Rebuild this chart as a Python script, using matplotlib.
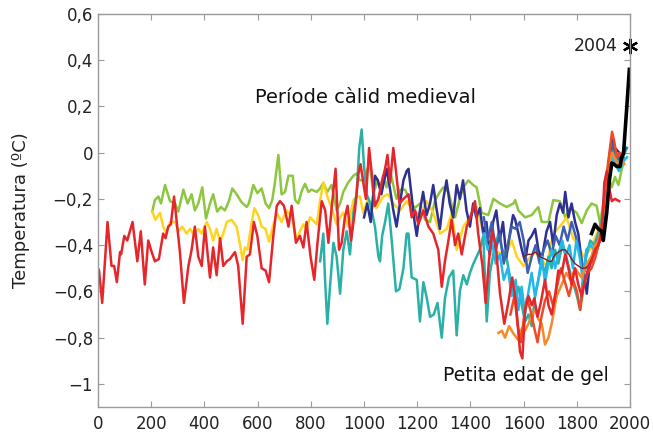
import matplotlib.pyplot as plt

plt.rcParams['font.family'] = ['DejaVu Sans']

# temperature reconstructions (anomalies, degC)
red_years = [0, 4, 16, 36, 51, 61, 71, 83, 87, 99, 110, 130, 148, 161, 176, 189, 202, 214, 229, 245,
             254, 264, 274, 286, 296, 308, 323, 340, 352, 364, 377, 390, 402, 421, 433, 446, 459, 471,
             484, 496, 515, 527, 544, 559, 571, 586, 599, 615, 630, 643, 659, 672, 684, 699, 716, 728,
             744, 759, 772, 784, 799, 813, 825, 841, 854, 866, 879, 893, 906, 916, 928, 938, 951, 966,
             979, 987, 997, 1007, 1019, 1029, 1041, 1054, 1066, 1079, 1088, 1098, 1110, 1120, 1133,
             1148, 1167, 1179, 1192, 1204, 1223, 1242, 1260, 1279, 1292, 1304, 1317, 1329, 1342, 1354,
             1367, 1386, 1405, 1417, 1429, 1445, 1457, 1470, 1482, 1495, 1511, 1527, 1542, 1557, 1570,
             1586, 1595, 1605, 1618, 1630, 1640, 1652, 1664, 1680, 1693, 1705, 1718, 1730, 1743, 1756,
             1768, 1780, 1793, 1805, 1818, 1830, 1843, 1855, 1868, 1880, 1893, 1903, 1912, 1921, 1931,
             1943, 1959]
red_vals = [-0.50, -0.51, -0.65, -0.30, -0.49, -0.49, -0.56, -0.43, -0.44, -0.36, -0.38, -0.30, -0.47,
            -0.34, -0.57, -0.38, -0.43, -0.47, -0.46, -0.35, -0.37, -0.32, -0.31, -0.19, -0.30, -0.43,
            -0.65, -0.49, -0.42, -0.32, -0.45, -0.49, -0.32, -0.54, -0.41, -0.53, -0.37, -0.49, -0.47,
            -0.46, -0.43, -0.49, -0.74, -0.45, -0.44, -0.30, -0.36, -0.50, -0.51, -0.56, -0.36, -0.23,
            -0.21, -0.23, -0.32, -0.23, -0.39, -0.36, -0.41, -0.30, -0.45, -0.55, -0.39, -0.21, -0.25,
            -0.39, -0.23, -0.07, -0.42, -0.39, -0.28, -0.23, -0.38, -0.25, -0.09, -0.05, -0.13, -0.20,
            0.02, -0.09, -0.23, -0.20, -0.13, -0.07, -0.01, -0.13, 0.02, -0.08, -0.22, -0.20, -0.18,
            -0.28, -0.25, -0.31, -0.25, -0.32, -0.35, -0.42, -0.58, -0.47, -0.38, -0.29, -0.40, -0.35,
            -0.44, -0.32, -0.26, -0.21, -0.35, -0.49, -0.65, -0.46, -0.34, -0.40, -0.61, -0.74, -0.65,
            -0.54, -0.64, -0.86, -0.89, -0.68, -0.62, -0.66, -0.63, -0.71, -0.65, -0.55, -0.66, -0.70,
            -0.62, -0.51, -0.52, -0.44, -0.50, -0.57, -0.50, -0.57, -0.62, -0.55, -0.50, -0.47, -0.42,
            -0.40, -0.35, -0.13, -0.08, -0.15, -0.21, -0.20, -0.21]

green_years = [204, 214, 227, 237, 252, 271, 290, 302, 321, 337, 352, 364, 377, 392, 406, 421, 433, 448,
               462, 477, 492, 505, 521, 540, 559, 567, 584, 599, 615, 630, 643, 655, 665, 678, 690, 703,
               716, 732, 741, 753, 766, 778, 791, 803, 822, 835, 847, 862, 878, 897, 910, 922, 940, 960,
               972, 985, 997, 1010, 1022, 1035, 1050, 1062, 1072, 1085, 1098, 1110, 1122, 1135, 1154,
               1170, 1190, 1210, 1229, 1248, 1267, 1285, 1298, 1317, 1342, 1360, 1373, 1392, 1410, 1423,
               1442, 1467, 1486, 1511, 1536, 1561, 1568, 1580, 1605, 1630, 1655, 1668, 1693, 1711, 1736,
               1756, 1774, 1799, 1818, 1837, 1855, 1874, 1887, 1899, 1918, 1931, 1943, 1956, 1968, 1978]
green_vals = [-0.255, -0.205, -0.19, -0.22, -0.14, -0.21, -0.22, -0.255, -0.16, -0.22, -0.18, -0.25,
              -0.22, -0.15, -0.285, -0.22, -0.18, -0.255, -0.235, -0.25, -0.21, -0.155, -0.18, -0.215,
              -0.235, -0.22, -0.14, -0.175, -0.155, -0.22, -0.24, -0.205, -0.13, -0.01, -0.18, -0.17,
              -0.10, -0.10, -0.205, -0.22, -0.165, -0.135, -0.17, -0.16, -0.17, -0.155, -0.13, -0.17,
              -0.14, -0.25, -0.22, -0.17, -0.13, -0.10, -0.09, -0.12, -0.12, -0.08, -0.05, -0.18, -0.12,
              -0.16, -0.10, -0.15, -0.08, -0.14, -0.20, -0.16, -0.16, -0.20, -0.24, -0.22, -0.29, -0.30,
              -0.205, -0.17, -0.15, -0.17, -0.28, -0.20, -0.15, -0.12, -0.14, -0.15, -0.26, -0.27,
              -0.20, -0.22, -0.235, -0.22, -0.205, -0.25, -0.28, -0.27, -0.235, -0.30, -0.30, -0.205,
              -0.21, -0.28, -0.24, -0.26, -0.305, -0.25, -0.22, -0.23, -0.305, -0.22, -0.105, -0.15,
              -0.105, -0.14, -0.075, -0.03]

yellow_years = [204, 216, 233, 245, 258, 271, 290, 302, 317, 333, 346, 358, 377, 390, 409, 421, 433,
                446, 459, 471, 484, 502, 521, 531, 544, 552, 562, 575, 588, 602, 615, 630, 643, 655,
                672, 690, 709, 728, 747, 759, 772, 784, 797, 822, 835, 847, 862, 878, 897, 910, 922,
                941, 960, 972, 985, 997, 1015, 1035, 1047, 1072, 1090, 1110, 1135, 1160, 1185, 1210,
                1235, 1260, 1286, 1311, 1330, 1348, 1373, 1398, 1423, 1445, 1467, 1486, 1505, 1530,
                1555, 1574, 1599, 1618, 1643, 1665, 1686, 1711, 1736, 1761, 1786, 1805, 1824, 1850,
                1874, 1900, 1918, 1937, 1955, 1974]
yellow_vals = [-0.255, -0.29, -0.26, -0.32, -0.35, -0.30, -0.30, -0.34, -0.32, -0.35, -0.33, -0.35,
               -0.33, -0.35, -0.30, -0.33, -0.38, -0.33, -0.385, -0.35, -0.30, -0.29, -0.32, -0.38,
               -0.465, -0.41, -0.42, -0.32, -0.24, -0.27, -0.32, -0.33, -0.385, -0.33, -0.26, -0.30,
               -0.25, -0.28, -0.38, -0.34, -0.31, -0.33, -0.28, -0.31, -0.205, -0.13, -0.19, -0.24,
               -0.31, -0.28, -0.26, -0.32, -0.205, -0.19, -0.19, -0.26, -0.20, -0.23, -0.24, -0.19,
               -0.18, -0.22, -0.25, -0.21, -0.25, -0.27, -0.21, -0.26, -0.35, -0.33, -0.26, -0.42,
               -0.32, -0.28, -0.235, -0.33, -0.41, -0.45, -0.43, -0.45, -0.38, -0.45, -0.49, -0.46,
               -0.43, -0.46, -0.49, -0.35, -0.32, -0.28, -0.37, -0.40, -0.45, -0.42, -0.35, -0.30,
               -0.03, 0.04, -0.03, -0.01]

teal_years = [835, 847, 853, 862, 872, 885, 897, 910, 922, 935, 947, 960, 972, 982, 991, 1000, 1010,
              1023, 1041, 1054, 1060, 1068, 1079, 1091, 1104, 1120, 1133, 1148, 1160, 1167, 1179, 1198,
              1210, 1223, 1236, 1248, 1262, 1276, 1292, 1304, 1319, 1335, 1348, 1360, 1373, 1386, 1398,
              1411, 1423, 1435, 1448, 1461, 1473, 1486, 1505, 1520, 1535, 1550, 1565, 1580, 1593, 1605,
              1618, 1630, 1643, 1655, 1668, 1680, 1693, 1705, 1718, 1730, 1745, 1760, 1775, 1790, 1800,
              1812, 1822, 1835, 1850, 1865, 1880, 1895, 1908, 1920, 1932, 1945, 1958, 1972, 1988]
teal_vals = [-0.47, -0.35, -0.54, -0.74, -0.58, -0.39, -0.45, -0.61, -0.42, -0.34, -0.44, -0.26, -0.18,
             0.02, 0.10, -0.06, -0.18, -0.22, -0.32, -0.45, -0.47, -0.36, -0.30, -0.22, -0.38, -0.60,
             -0.59, -0.50, -0.35, -0.35, -0.54, -0.55, -0.73, -0.56, -0.63, -0.71, -0.70, -0.65, -0.80,
             -0.63, -0.54, -0.51, -0.79, -0.60, -0.53, -0.57, -0.52, -0.48, -0.45, -0.42, -0.36, -0.73,
             -0.52, -0.44, -0.35, -0.42, -0.45, -0.55, -0.62, -0.58, -0.66, -0.73, -0.70, -0.75, -0.62,
             -0.55, -0.48, -0.52, -0.45, -0.50, -0.42, -0.48, -0.40, -0.45, -0.52, -0.58, -0.62, -0.68,
             -0.55, -0.45, -0.38, -0.40, -0.35, -0.28, -0.15, -0.06, 0.02, -0.02, -0.05, -0.02, 0.02]

navy_years = [1000, 1012, 1025, 1041, 1052, 1065, 1085, 1098, 1110, 1122, 1135, 1148, 1160, 1167, 1178,
              1190, 1198, 1210, 1222, 1235, 1248, 1260, 1272, 1285, 1298, 1310, 1322, 1335, 1348, 1360,
              1372, 1385, 1398, 1410, 1422, 1435, 1448, 1460, 1472, 1485, 1497, 1510, 1522, 1535, 1548,
              1560, 1568, 1580, 1593, 1605, 1618, 1630, 1643, 1655, 1668, 1686, 1699, 1711, 1724, 1736,
              1748, 1756, 1768, 1780, 1793, 1805, 1818, 1830, 1837, 1849, 1862, 1874, 1893, 1905, 1912,
              1922, 1931, 1943, 1959, 1974]
navy_vals = [-0.28, -0.22, -0.30, -0.10, -0.12, -0.18, -0.07, -0.16, -0.25, -0.32, -0.22, -0.12, -0.08,
             -0.07, -0.18, -0.30, -0.36, -0.25, -0.17, -0.27, -0.22, -0.14, -0.24, -0.33, -0.20, -0.12,
             -0.22, -0.28, -0.14, -0.20, -0.12, -0.25, -0.32, -0.22, -0.28, -0.24, -0.35, -0.30, -0.44,
             -0.30, -0.25, -0.38, -0.30, -0.45, -0.35, -0.27, -0.29, -0.35, -0.42, -0.47, -0.38, -0.36,
             -0.33, -0.42, -0.46, -0.34, -0.30, -0.40, -0.27, -0.22, -0.26, -0.17, -0.28, -0.22, -0.30,
             -0.35, -0.47, -0.55, -0.61, -0.47, -0.44, -0.42, -0.36, -0.25, -0.11, -0.02, 0.06, 0.02,
             0.00, -0.02]

blue_years = [1450, 1465, 1480, 1495, 1510, 1525, 1540, 1555, 1570, 1585, 1600, 1615, 1630, 1645, 1660,
              1675, 1690, 1705, 1720, 1735, 1750, 1765, 1780, 1795, 1810, 1825, 1840, 1855, 1870, 1885,
              1900, 1912, 1922, 1932, 1945, 1958, 1972, 1985]
blue_vals = [-0.28, -0.38, -0.30, -0.42, -0.35, -0.48, -0.40, -0.32, -0.33, -0.30, -0.38, -0.52, -0.45,
             -0.40, -0.48, -0.42, -0.38, -0.44, -0.36, -0.40, -0.32, -0.38, -0.30, -0.36, -0.42, -0.52,
             -0.48, -0.45, -0.40, -0.36, -0.30, -0.15, -0.05, 0.04, 0.00, -0.03, 0.00, 0.02]

cyan_years = [1450, 1465, 1480, 1495, 1510, 1525, 1540, 1555, 1570, 1580, 1592, 1605, 1618, 1630, 1642,
              1655, 1668, 1680, 1693, 1705, 1718, 1730, 1745, 1758, 1772, 1785, 1798, 1810, 1822, 1835,
              1850, 1865, 1880, 1895, 1908, 1920, 1932, 1945, 1958, 1972, 1988]
cyan_vals = [-0.35, -0.42, -0.38, -0.48, -0.44, -0.55, -0.50, -0.62, -0.55, -0.68, -0.58, -0.70, -0.60,
             -0.52, -0.62, -0.55, -0.45, -0.56, -0.48, -0.42, -0.50, -0.44, -0.38, -0.45, -0.40, -0.50,
             -0.38, -0.45, -0.55, -0.42, -0.40, -0.42, -0.38, -0.30, -0.18, -0.08, -0.02, -0.05, -0.08,
             -0.04, -0.02]

orange_years = [1505, 1518, 1530, 1545, 1560, 1580, 1593, 1605, 1618, 1630, 1643, 1655, 1668, 1680, 1693,
                1705, 1724, 1743, 1760, 1775, 1793, 1805, 1818, 1830, 1843, 1855, 1868, 1880, 1893, 1905,
                1912, 1922, 1931, 1940, 1950, 1960, 1968, 1978]
orange_vals = [-0.78, -0.77, -0.80, -0.75, -0.78, -0.81, -0.76, -0.77, -0.74, -0.70, -0.68, -0.72, -0.74,
               -0.83, -0.80, -0.74, -0.62, -0.57, -0.52, -0.55, -0.50, -0.52, -0.54, -0.50, -0.47, -0.45,
               -0.40, -0.38, -0.32, -0.20, -0.12, -0.05, 0.00, -0.02, -0.04, -0.06, -0.03, -0.05]

orangered_years = [1550, 1565, 1578, 1590, 1600, 1612, 1625, 1640, 1652, 1665, 1680, 1695, 1710, 1725,
                   1740, 1755, 1770, 1785, 1800, 1812, 1825, 1840, 1855, 1870, 1885, 1900, 1912, 1922,
                   1932, 1940, 1950, 1960, 1970]
orangered_vals = [-0.70, -0.62, -0.75, -0.82, -0.72, -0.63, -0.68, -0.76, -0.82, -0.72, -0.64, -0.60,
                  -0.66, -0.58, -0.50, -0.56, -0.62, -0.55, -0.60, -0.68, -0.58, -0.52, -0.50, -0.45,
                  -0.38, -0.25, -0.10, 0.00, 0.09, 0.05, -0.02, 0.00, -0.03]

darkred_years = [1599, 1615, 1630, 1645, 1660, 1680, 1695, 1705, 1718, 1730, 1745, 1756, 1770, 1780,
                 1793, 1805, 1818, 1830, 1843, 1855, 1862]
darkred_vals = [-0.45, -0.44, -0.44, -0.43, -0.45, -0.46, -0.47, -0.47, -0.44, -0.43, -0.42, -0.42,
                -0.44, -0.46, -0.48, -0.49, -0.50, -0.50, -0.49, -0.46, -0.44]

# instrumental record
instr_years = [1855, 1868, 1880, 1893, 1899, 1912, 1922, 1931, 1939, 1950, 1962, 1968, 1975, 1987, 1997]
instr_vals = [-0.35, -0.31, -0.33, -0.34, -0.38, -0.26, -0.12, -0.045, -0.05, -0.06, -0.06, -0.02,
              -0.005, 0.19, 0.36]

series = [
    (green_years, green_vals, '#8dc63f'),
    (yellow_years, yellow_vals, '#ffd420'),
    (teal_years, teal_vals, '#2bb0a5'),
    (navy_years, navy_vals, '#2e3192'),
    (blue_years, blue_vals, '#3f5fb0'),
    (cyan_years, cyan_vals, '#22b8ea'),
    (orange_years, orange_vals, '#f58a2a'),
    (orangered_years, orangered_vals, '#ee4a26'),
    (darkred_years, darkred_vals, '#8e1b1b'),
    (red_years, red_vals, '#e5262b'),
]

fig = plt.figure(figsize=(6.53, 4.33), dpi=100)
ax = fig.add_axes([0.150, 0.060, 0.815, 0.908])

for yrs, vals, col in series:
    lw = 1.0 if col == '#8e1b1b' else 1.8
    ax.plot(yrs, vals, color=col, lw=lw, solid_joinstyle='round')

ax.plot(instr_years, instr_vals, color='black', lw=2.6, solid_joinstyle='round')
ax.plot([2000], [0.46], marker=(6, 2, 0), color='black', ms=11, mew=1.6, clip_on=False)
ax.annotate('2004', xy=(2000, 0.46), xytext=(-9, 0), textcoords='offset points',
            ha='right', va='center', fontsize=12.5, color='#222222')

ax.text(1004, 0.24, 'Període càlid medieval', ha='center', va='center', fontsize=14, color='#111111')
ax.text(1609, -0.965, 'Petita edat de gel', ha='center', va='center', fontsize=13.5, color='#111111')

ax.set_xlim(0, 2000)
ax.set_ylim(-1.1, 0.6)
ax.set_xticks(range(0, 2001, 200))
ax.set_yticks([-1, -0.8, -0.6, -0.4, -0.2, 0, 0.2, 0.4, 0.6])
ax.set_yticklabels(['\u22121', '\u22120,8', '\u22120,6', '\u22120,4', '\u22120,2', '0', '0,2', '0,4', '0,6'])
ax.set_ylabel('Temperatura (ºC)', fontsize=13, color='#222222')
ax.yaxis.set_label_coords(-0.128, 0.5)

for s in ax.spines.values():
    s.set_color('#9a9a9a')
    s.set_linewidth(1.0)
ax.tick_params(direction='in', top=True, right=True, length=4, width=0.8, color='#9a9a9a',
               labelsize=12, labelcolor='#222222')
ax.tick_params(axis='x', pad=6)

fig.savefig('out.png', dpi=100)
